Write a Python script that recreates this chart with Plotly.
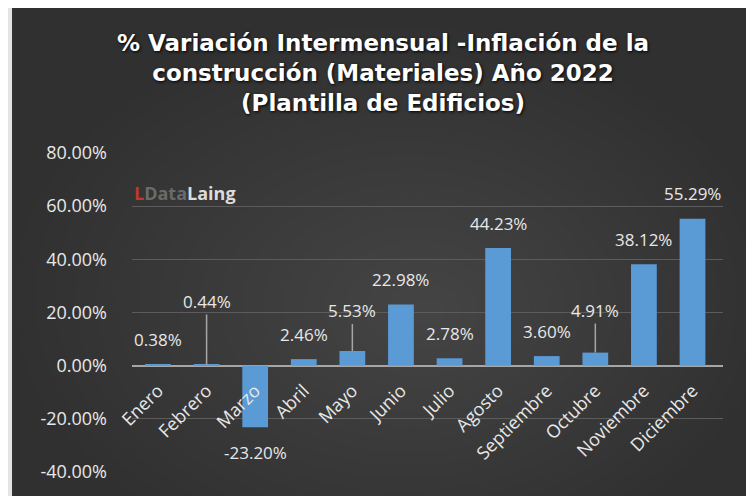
import plotly.graph_objects as go

meses = ['Enero', 'Febrero', 'Marzo', 'Abril', 'Mayo', 'Junio', 'Julio',
         'Agosto', 'Septiembre', 'Octubre', 'Noviembre', 'Diciembre']
variacion = [0.38, 0.44, -23.20, 2.46, 5.53, 22.98, 2.78, 44.23, 3.60, 4.91, 38.12, 55.29]
tick_vals = [-40, -20, 0, 20, 40, 60, 80]
tick_text = ['-40.00%', '-20.00%', '0.00%', '20.00%', '40.00%', '60.00%', '80.00%']
titulo = ['% Variación Intermensual -Inflación de la',
          'construcción (Materiales) Año 2022',
          '(Plantilla de Edificios)']

# etiquetas con línea guía (Excel las movió hacia arriba)
con_guia = {'Febrero': -63, 'Mayo': -40, 'Octubre': -42}

fuente = 'Open Sans'
gris_txt = '#e8e8e8'

fig = go.Figure()

fig.add_trace(go.Bar(
    x=meses,
    y=variacion,
    marker=dict(color='#5B9BD5', line=dict(width=0)),
    width=0.53,
    hoverinfo='x+y'
))

# etiquetas de datos
for mes, val in zip(meses, variacion):
    texto = f'{val:.2f}%'
    if mes in con_guia:
        fig.add_annotation(x=mes, y=val, text=texto, showarrow=True,
                           arrowhead=0, arrowwidth=1.5, arrowcolor='#a6a6a6',
                           ax=0, ay=con_guia[mes], standoff=0,
                           font=dict(family=fuente, size=17, color=gris_txt))
    else:
        fig.add_annotation(x=mes, y=val, text=texto, showarrow=False,
                           yshift=25 if val >= 0 else -25,
                           font=dict(family=fuente, size=17, color=gris_txt))

# título
fig.add_annotation(xref='paper', yref='paper', x=0.425, y=1.251,
                   xanchor='center', yanchor='middle', showarrow=False,
                   text='<b>' + '<br>'.join(titulo) + '</b>',
                   font=dict(family='DejaVu Sans', size=23, color='#ffffff',
                             shadow='1px 1px 3px #000'))

# logo
fig.add_annotation(xref='paper', yref='paper', x=0.0, y=0.92, xanchor='left',
                   text='<b><span style="color:#c0392b">L</span>'
                        '<span style="color:#6a6a6a">Data</span>'
                        '<span style="color:#dcdcdc">Laing</span></b>',
                   showarrow=False, font=dict(family=fuente, size=18))

# fondo oscuro del gráfico (borde claro a la izquierda)
fig.add_shape(type='rect', xref='paper', yref='paper', layer='below',
              x0=-0.203, x1=1.07, y0=-0.1, y1=1.473,
              fillcolor='#303030', line=dict(width=0))
# degradado radial aproximado
n = 20
for k in range(n):
    f = 1 - k / n
    fig.add_shape(type='circle', xref='paper', yref='paper', layer='below',
                  x0=0.5 - 0.7 * f, x1=0.5 + 0.58 * f,
                  y0=0.5 - 0.8 * f, y1=0.5 + 0.9 * f,
                  fillcolor='#707070', opacity=0.025, line=dict(width=0))

fig.update_layout(
    width=754,
    height=496,
    # el cuerpo de la página añade 8 px de margen
    margin=dict(l=124, r=39, t=145, b=32, autoexpand=False),
    paper_bgcolor='#e4e4e4',
    plot_bgcolor='rgba(0,0,0,0)',
    showlegend=False,
    xaxis=dict(
        anchor='free',
        position=40 / 120,
        tickangle=-45,
        tickfont=dict(family=fuente, size=18, color=gris_txt),
        ticklabelstandoff=10,
        showgrid=False,
        showline=False,
        ticks='',
        automargin=False
    ),
    yaxis=dict(
        range=[-40, 80],
        tickvals=tick_vals,
        ticktext=tick_text,
        tickfont=dict(family=fuente, size=18, color=gris_txt),
        gridcolor='#5c5c5c',
        gridwidth=1,
        zeroline=True,
        zerolinecolor='#a6a6a6',
        zerolinewidth=2,
        ticklabelstandoff=24,
        automargin=False
    )
)

fig.write_html('out.html')
